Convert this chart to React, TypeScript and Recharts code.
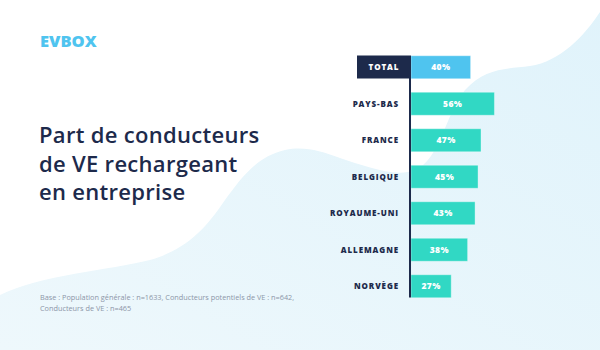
import { BarChart, Bar, XAxis, YAxis, Cell, LabelList, ReferenceLine } from 'recharts';

// Part de conducteurs de VE rechargeant en entreprise (%)
const countries = ['TOTAL', 'PAYS-BAS', 'FRANCE', 'BELGIQUE', 'ROYAUME-UNI', 'ALLEMAGNE', 'NORVÈGE'];
const shares = [40, 56, 47, 45, 43, 38, 27];
const titleLines = ['Part de conducteurs', 'de VE rechargeant', 'en entreprise'];
const footnoteLines = [
  'Base : Population générale : n=1633, Conducteurs potentiels de VE : n=642,',
  'Conducteurs de VE : n=465',
];

const NAVY = '#1d2a4b';
const TEAL = '#31d8c4';
const SKY = '#4fc4ef';
const BAR_SIZE = 23;
const FONT = '"Open Sans", "Noto Sans", sans-serif';

const data = countries.map((name, i) => ({ name, share: shares[i] }));

const CountryTick = ({ x, y, payload }: any) => {
  const isTotal = payload.value === 'TOTAL';
  return (
    <g>
      {isTotal && (
        <rect x={x - 42} y={y - BAR_SIZE / 2} width={52} height={BAR_SIZE} fill={NAVY} />
      )}
      <text
        x={isTotal ? x - 15 : x}
        y={y + 3}
        textAnchor={isTotal ? 'middle' : 'end'}
        fill={isTotal ? '#ffffff' : NAVY}
        fontSize={8}
        fontWeight={800}
        letterSpacing={0.9}
        fontFamily={FONT}
      >
        {payload.value}
      </text>
    </g>
  );
};

// axis line running from the top of the first bar to the bottom of the last one
const AxisSegment = (props: any) => (
  <line
    x1={props.x1 - 1}
    x2={props.x2 - 1}
    y1={props.y1 - BAR_SIZE / 2}
    y2={props.y2 + BAR_SIZE / 2}
    stroke={NAVY}
    strokeWidth={2}
  />
);

const Background = () => (
  <svg width={600} height={350} style={{ position: 'absolute', left: 0, top: 0 }}>
    <defs>
      <linearGradient id="blob" x1="0" y1="1" x2="1" y2="0">
        <stop offset="0%" stopColor="#eef8fc" />
        <stop offset="100%" stopColor="#e0f3fb" />
      </linearGradient>
    </defs>
    <rect width={600} height={350} fill="url(#blob)" />
    <path
      d="M0,0 H600 V12 C585,35 560,62 530,66 C505,69 485,68 465,90 C445,115 440,160 415,170 C395,178 365,166 340,158 C320,151 305,146 285,150 C255,157 240,180 225,200 C205,230 185,250 150,260 C110,270 40,275 0,295 Z"
      fill="#ffffff"
    />
    <text x={40} y={47} fill={SKY} fontSize={16.5} fontWeight={800} fontFamily={FONT}>
      EVBOX
    </text>
    {titleLines.map((line, i) => (
      <text key={line} x={39} y={143 + i * 28.5} fill={NAVY} fontSize={22} fontWeight={600} letterSpacing={0.3} fontFamily={FONT}>
        {line}
      </text>
    ))}
    {footnoteLines.map((line, i) => (
      <text key={line} x={40} y={300 + i * 11} fill="#8c96a8" fontSize={7.3} fontFamily={FONT}>
        {line}
      </text>
    ))}
  </svg>
);

export default function App() {
  return (
    <div style={{ position: 'absolute', left: 0, top: 0, width: 600, height: 350, overflow: 'hidden', background: '#fff' }}>
      <Background />
      <div style={{ position: 'absolute', left: 0, top: 0 }}>
        <BarChart
          width={600}
          height={350}
          data={data}
          layout="vertical"
          margin={{ top: 48.75, right: 40, bottom: 45.75, left: 311 }}
        >
          <XAxis type="number" domain={[0, 100]} hide />
          <YAxis
            type="category"
            dataKey="name"
            width={100}
            axisLine={false}
            tickLine={false}
            tickSize={0}
            tickMargin={12}
            tick={<CountryTick />}
            interval={0}
          />
          <Bar dataKey="share" barSize={BAR_SIZE} isAnimationActive={false} stroke="rgba(255,255,255,0.35)" strokeWidth={1}>
            {data.map((d) => (
              <Cell key={d.name} fill={d.name === 'TOTAL' ? SKY : TEAL} />
            ))}
            <LabelList
              dataKey="share"
              position="center"
              formatter={(v: any) => `${v}%`}
              fill="#ffffff"
              fontSize={8.5}
              fontWeight={800}
              fontFamily={FONT}
              letterSpacing={0.4}
            />
          </Bar>
          <ReferenceLine
            segment={[
              { x: 0, y: countries[0] },
              { x: 0, y: countries[countries.length - 1] },
            ]}
            shape={<AxisSegment />}
          />
        </BarChart>
      </div>
    </div>
  );
}
